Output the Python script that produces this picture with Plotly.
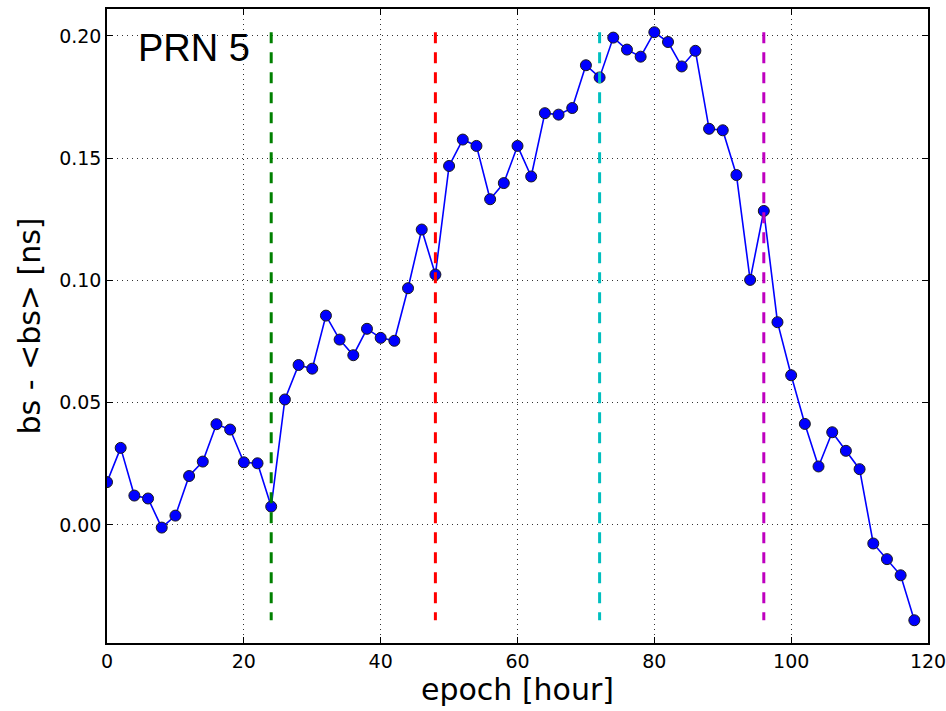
import plotly.graph_objects as go

epoch = list(range(0, 120, 2))
bias = [0.0175, 0.0315, 0.0120, 0.0108, -0.0011, 0.0038, 0.0200, 0.0259, 0.0412, 0.0390,
        0.0256, 0.0252, 0.0075, 0.0513, 0.0654, 0.0639, 0.0856, 0.0758, 0.0694, 0.0802,
        0.0765, 0.0753, 0.0968, 0.1208, 0.1024, 0.1468, 0.1576, 0.1550, 0.1332, 0.1398,
        0.1550, 0.1425, 0.1684, 0.1678, 0.1705, 0.1880, 0.1830, 0.1993, 0.1944, 0.1915,
        0.2015, 0.1975, 0.1875, 0.1939, 0.1620, 0.1614, 0.1431, 0.1002, 0.1284, 0.0829,
        0.0612, 0.0413, 0.0239, 0.0379, 0.0303, 0.0228, -0.0076, -0.0140, -0.0206, -0.0390]

day_marks = [24, 48, 72, 96]
day_colors = ["#008000", "#FF0000", "#00BFBF", "#BF00BF"]

x_ticks = [0, 20, 40, 60, 80, 100, 120]
y_ticks = [0.00, 0.05, 0.10, 0.15, 0.20]

fig = go.Figure()

fig.add_trace(go.Scatter(
    x=epoch, y=bias, mode="lines+markers",
    line=dict(color="#0000FF", width=1.6),
    marker=dict(color="#0000FF", size=11, line=dict(color="#1a1a1a", width=1)),
    showlegend=False,
))

ymin, ymax = min(bias), max(bias)
for xm, col in zip(day_marks, day_colors):
    fig.add_trace(go.Scatter(
        x=[xm, xm], y=[ymax, ymin], mode="lines",
        line=dict(color=col, width=3, dash="11px,9px"),
        showlegend=False, hoverinfo="skip",
    ))

axis_common = dict(
    showline=True, linecolor="black", linewidth=1.5, mirror="ticks",
    ticks="inside", ticklen=6, tickwidth=1, tickcolor="black",
    showgrid=True, gridcolor="#333333", gridwidth=1, griddash="1px,4px",
    zeroline=False,
    tickfont=dict(family="DejaVu Sans", size=19, color="black"),
    ticklabeloverflow="allow",
)

fig.update_xaxes(
    range=[0, 120], tickvals=x_ticks, ticktext=[str(v) for v in x_ticks],
    title=dict(text="epoch [hour]", font=dict(family="DejaVu Sans", size=30, color="black"), standoff=4),
    **axis_common,
)
fig.update_yaxes(
    range=[-0.0483, 0.211], tickvals=y_ticks, ticktext=[f"{v:.2f}" for v in y_ticks],
    title=dict(text="bs - &lt;bs&gt; [ns]", font=dict(family="DejaVu Sans", size=30, color="black"), standoff=10),
    **axis_common,
)

fig.add_annotation(
    text="PRN 5", xref="paper", yref="paper", x=0.035, y=0.938,
    xanchor="left", yanchor="middle", showarrow=False,
    font=dict(family="Liberation Sans", size=38, color="black"),
)

fig.update_layout(
    width=946, height=711,
    margin=dict(l=107, r=18, t=9, b=68, autoexpand=False),
    plot_bgcolor="white", paper_bgcolor="white",
)

fig.write_html("out.html")
